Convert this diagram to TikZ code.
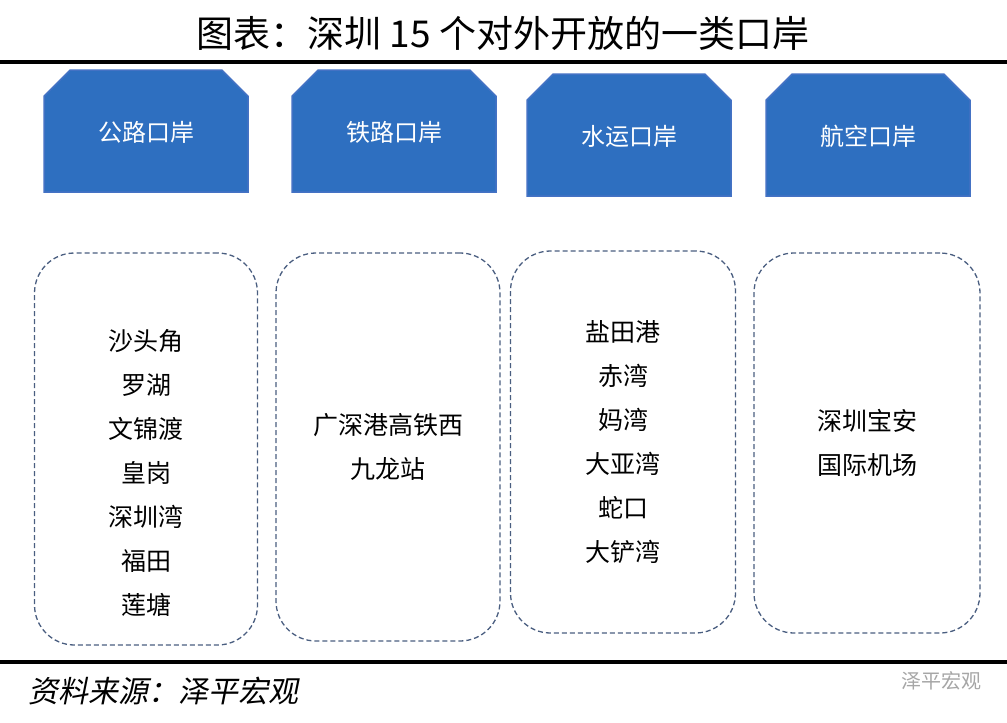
\documentclass[tikz,border=0pt]{standalone}
\usepackage{fontspec}
\newfontfamily\cjk{Noto Sans CJK SC}
\newfontfamily\cjkslant[FakeSlant=0.2]{Noto Sans CJK SC}
\usetikzlibrary{shapes.misc,positioning}
\definecolor{portblue}{HTML}{2E6FC0}
\definecolor{portedge}{HTML}{4472C4}
\definecolor{dashgray}{HTML}{4A5E80}
\begin{document}
\begin{tikzpicture}[x=1pt,y=-1pt,
	head/.style={chamfered rectangle, chamfered rectangle corners={north west,north east},
		chamfered rectangle xsep=16pt, chamfered rectangle ysep=16pt, fill=portblue, draw=portedge, line width=1.5pt,
		minimum width=204pt, minimum height=122pt, inner sep=0pt, text=white, font=\cjk\fontsize{24}{28}\selectfont},
	list/.style={draw=dashgray, dash pattern=on 5pt off 3pt, line width=1.3pt, rounded corners=40pt, inner sep=0pt},
	items/.style={align=center, font=\cjk\fontsize{25}{44}\selectfont},
	rule/.style={line width=4pt}]
	\useasboundingbox (0,0) rectangle (1007,723);
	% Title and rules
	\node (title) at (503,33) {\cjk\fontsize{37}{42}\selectfont 图表：深圳 15 个对外开放的一类口岸};
	\coordinate (tl) at (0,62); \coordinate (tr) at (1007,62);
	\coordinate (bl) at (0,662); \coordinate (br) at (1007,662);
	\draw[rule] (tl) -- (tr);
	\draw[rule] (bl) -- (br);
	% Headers
	\node[head, text depth=-10pt] (road) at (146,131) {公路口岸};
	\node[head, text depth=-10pt] (rail) at (394,131) {铁路口岸};
	\node[head, text depth=-10pt] (water) at (629,135) {水运口岸};
	\node[head, text depth=-10pt] (air) at (868,135) {航空口岸};
	% Lists
	\node[list, minimum width=223pt, minimum height=392pt] (roadlist) at (146,449) {};
	\node[list, minimum width=224pt, minimum height=388pt] (raillist) at (388,447) {};
	\node[list, minimum width=225pt, minimum height=382pt] (waterlist) at (623,442) {};
	\node[list, minimum width=226pt, minimum height=380pt] (airlist) at (867,443) {};
	\node[items] (roaditems) at ([yshift=-24pt]roadlist.center) {沙头角\\罗湖\\文锦渡\\皇岗\\深圳湾\\福田\\莲塘};
	\node[items] (railitems) at (raillist.center) {广深港高铁西\\九龙站};
	\node[items] (wateritems) at (waterlist.center) {盐田港\\赤湾\\妈湾\\大亚湾\\蛇口\\大铲湾};
	\node[items] (airitems) at (airlist.center) {深圳宝安\\国际机场};
	% Source
	\node[anchor=west] (source) at (25,691) {\cjkslant\fontsize{30}{34}\selectfont 资料来源：泽平宏观};
	\node[anchor=east, text=gray!70] (mark) at (985,681) {\cjk\fontsize{20}{24}\selectfont 泽平宏观};
\end{tikzpicture}
\end{document}
